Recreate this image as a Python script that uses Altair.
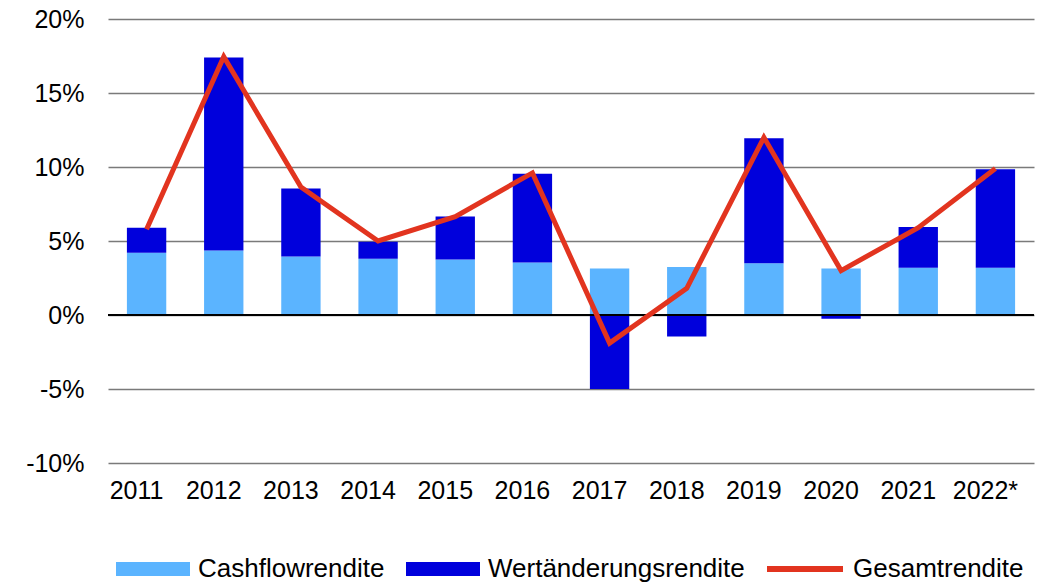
import altair as alt
import pandas as pd

years = ["2011", "2012", "2013", "2014", "2015", "2016", "2017", "2018", "2019", "2020", "2021", "2022*"]
cashflow = [4.2, 4.35, 3.95, 3.8, 3.75, 3.55, 3.15, 3.25, 3.5, 3.15, 3.2, 3.2]
wertaenderung = [1.7, 13.05, 4.6, 1.15, 2.9, 6.0, -5.0, -1.45, 8.45, -0.25, 2.75, 6.65]
gesamt = [5.8, 17.45, 8.65, 5.0, 6.65, 9.6, -1.9, 1.8, 12.0, 3.0, 5.9, 9.9]

series_bar = ["Cashflowrendite", "Wertänderungsrendite"]
series_line = "Gesamtrendite"
y_ticks = [-10, -5, 0, 5, 10, 15, 20]

c_cash = "#5bb4ff"
c_wert = "#0000dc"
c_line = "#e2341f"
FONT = "Liberation Sans"

rows = []
for i, y in enumerate(years):
    rows.append({"year": y, "series": series_bar[0], "value": cashflow[i], "ord": 0})
    rows.append({"year": y, "series": series_bar[1], "value": wertaenderung[i], "ord": 1})
df_bars = pd.DataFrame(rows)
df_line = pd.DataFrame({"year": years, "value": gesamt, "series": [series_line] * len(years)})

x_axis = alt.Axis(
    title=None, labelAngle=0, ticks=False, domain=False, grid=False,
    labelFont=FONT, labelFontSize=25, labelColor="#000000",
    labelPadding=15, labelOffset=-10,
)
y_axis = alt.Axis(
    title=None, values=y_ticks, labelExpr="datum.value + '%'",
    ticks=False, domain=False, grid=True, gridColor="#7a7a7a", gridWidth=1.3,
    labelFont=FONT, labelFontSize=25, labelColor="#000000", labelPadding=24,
)
x_scale = alt.Scale(paddingInner=0.49, paddingOuter=0.245)
y_scale = alt.Scale(domain=[-10, 20], nice=False, zero=False)

bars = alt.Chart(df_bars).mark_bar().encode(
    x=alt.X("year:N", sort=years, scale=x_scale, axis=x_axis),
    y=alt.Y("value:Q", stack="zero", scale=y_scale, axis=y_axis),
    color=alt.Color(
        "series:N",
        scale=alt.Scale(domain=series_bar, range=[c_cash, c_wert]),
        legend=alt.Legend(
            title=None, orient="none", legendX=8, legendY=513, direction="horizontal",
            symbolType="M-1,-0.19H1V0.19H-1Z", symbolSize=74 * 74, symbolStrokeWidth=0,
            symbolOpacity=1, labelFont=FONT, labelFontSize=26, labelColor="#000000",
            labelOffset=8, columnPadding=21, padding=0, labelLimit=600,
        ),
    ),
    order=alt.Order("ord:Q"),
)

zero = alt.Chart(df_line).mark_rule(color="#000000", strokeWidth=1.3).encode(
    y=alt.Y(datum=0, scale=y_scale, axis=y_axis)
)

line = alt.Chart(df_line).mark_line(strokeWidth=5, strokeJoin="miter").encode(
    x=alt.X("year:N", sort=years, scale=x_scale, axis=x_axis),
    y=alt.Y("value:Q", scale=y_scale, axis=y_axis),
    stroke=alt.Stroke(
        "series:N",
        scale=alt.Scale(domain=[series_line], range=[c_line]),
        legend=alt.Legend(
            title=None, orient="none", legendX=656, legendY=509, direction="horizontal",
            symbolType="stroke", symbolSize=76 * 76, symbolStrokeWidth=6,
            labelFont=FONT, labelFontSize=26, labelColor="#000000",
            labelOffset=7, padding=0, labelLimit=600,
        ),
    ),
)

chart = alt.layer(bars, zero, line).properties(
    width=926, height=444,
    autosize=alt.AutoSizeParams(type="none"),
    padding={"left": 100, "top": 11, "right": 13, "bottom": 122},
).configure(background="white").configure_view(stroke=None)

chart.save("out.html", embed_options={"renderer": "svg", "actions": False})
